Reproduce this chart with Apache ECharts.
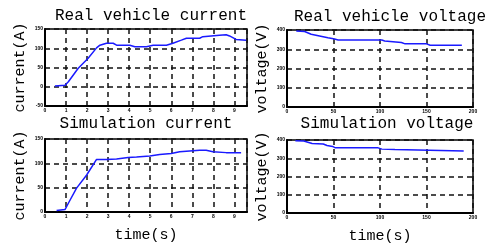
<!DOCTYPE html>
<html>
<head>
<meta charset="UTF-8">
<script src="https://cdn.jsdelivr.net/npm/echarts@6/dist/echarts.min.js"></script>
<style>
  body { margin: 0; background: #fff; }
  #main { width: 492px; height: 248px; }
</style>
</head>
<body>
<div id="main"></div>
<script>
// real vehicle current (time s, current A)
var realCurT = [0.47, 0.95, 1.11, 1.58, 2.05, 2.45, 2.61, 2.92, 3.24, 3.40, 4.03, 4.27, 4.82, 5.14, 5.77, 6.08, 6.48, 6.72, 7.35, 7.50, 8.29, 8.61, 8.77, 9.08, 9.56];
var realCurA = [2, 4, 13, 48, 74, 101, 108, 113, 113, 108, 108, 104, 104, 108, 108, 113, 121, 126, 126, 130, 134, 135, 132, 123, 121];
// simulation current
var simCurT = [0.55, 0.95, 1.11, 1.50, 1.98, 2.45, 2.92, 3.40, 3.95, 4.35, 4.98, 5.45, 6.0, 6.40, 7.03, 7.35, 7.66, 7.98, 8.61, 9.32];
var simCurA = [3, 5, 18, 49, 76, 108, 108, 109, 112, 113, 115, 118, 120, 124, 126, 127, 127, 124, 122, 122];
// real vehicle voltage
var realVolT = [10, 19, 26, 35, 44, 50, 55, 62, 102, 105, 123, 127, 150, 154, 188];
var realVolV = [395, 392, 378, 369, 360, 355, 348, 348, 348, 343, 335, 328, 328, 321, 321];
// simulation voltage
var simVolT = [9, 18, 19, 27, 39, 43, 49, 52, 98, 102, 116, 118, 190];
var simVolV = [396, 394, 385, 381, 378, 370, 365, 357, 357, 350, 348, 340, 340];

var curTicks = [0, 9.6, 1];     // min, max, interval
var volTicks = [0, 200, 50];

function pairs(a, b) { return a.map(function (v, i) { return [v, b[i]]; }); }

var font = 'Liberation Mono, DejaVu Sans Mono, monospace';
var gridLine = { show: true, lineStyle: { color: '#111', type: [5, 4], width: 1.5 } };
var axLine = { show: true, onZero: false, lineStyle: { color: '#000', width: 2 } };
var tinyLab = { color: '#000', fontSize: 5, fontWeight: 'bold', margin: 2 };

function xAx(gi, t, withName) {
  return {
    type: 'value', gridIndex: gi, min: t[0], max: t[1], interval: t[2],
    axisLine: axLine, axisTick: { show: false },
    axisLabel: Object.assign({}, tinyLab, {
      formatter: function (v) { return (v % 1 === 0) ? String(v) : ''; }
    }),
    splitLine: gridLine,
    name: withName ? 'time(s)' : '', nameLocation: 'middle', nameGap: 16,
    nameTextStyle: { fontFamily: font, fontSize: 15, color: '#000' }
  };
}
function yAx(gi, min, max, iv, name) {
  return {
    type: 'value', gridIndex: gi, min: min, max: max, interval: iv,
    axisLine: axLine, axisTick: { show: false },
    axisLabel: tinyLab, splitLine: gridLine,
    name: name, nameLocation: 'middle', nameGap: 17, nameRotate: 90,
    nameTextStyle: { fontFamily: font, fontSize: 15, color: '#000' }
  };
}
function ser(i, data) {
  return {
    type: 'line', xAxisIndex: i, yAxisIndex: i, data: data,
    showSymbol: false, lineStyle: { color: '#1a1aff', width: 1.5 }, silent: true
  };
}
function title(txt, x, y) {
  return { type: 'text', x: x, y: y, style: { text: txt, fill: '#000', font: '16px ' + font, align: 'center', verticalAlign: 'middle' } };
}

var chart = echarts.init(document.getElementById('main'), null, { renderer: 'canvas' });
chart.setOption({
  animation: false,
  grid: [
    { left: 45, top: 29, width: 202, height: 77, show: true, borderColor: '#000', borderWidth: 1.5 },
    { left: 287, top: 30, width: 186, height: 77, show: true, borderColor: '#000', borderWidth: 1.5 },
    { left: 45, top: 139, width: 202, height: 73, show: true, borderColor: '#000', borderWidth: 1.5 },
    { left: 287, top: 140, width: 186, height: 73, show: true, borderColor: '#000', borderWidth: 1.5 }
  ],
  xAxis: [xAx(0, curTicks, false), xAx(1, volTicks, false), xAx(2, curTicks, true), xAx(3, volTicks, true)],
  yAxis: [
    yAx(0, -50, 150, 50, 'current(A)'),
    yAx(1, 0, 400, 100, 'voltage(V)'),
    yAx(2, 0, 150, 50, 'current(A)'),
    yAx(3, 0, 400, 100, 'voltage(V)')
  ],
  series: [
    ser(0, pairs(realCurT, realCurA)),
    ser(1, pairs(realVolT, realVolV)),
    ser(2, pairs(simCurT, simCurA)),
    ser(3, pairs(simVolT, simVolV))
  ],
  graphic: [
    title('Real vehicle current', 151, 16),
    title('Real vehicle voltage', 390, 17),
    title('Simulation current', 146, 124),
    title('Simulation voltage', 387, 124)
  ]
});
</script>
</body>
</html>
